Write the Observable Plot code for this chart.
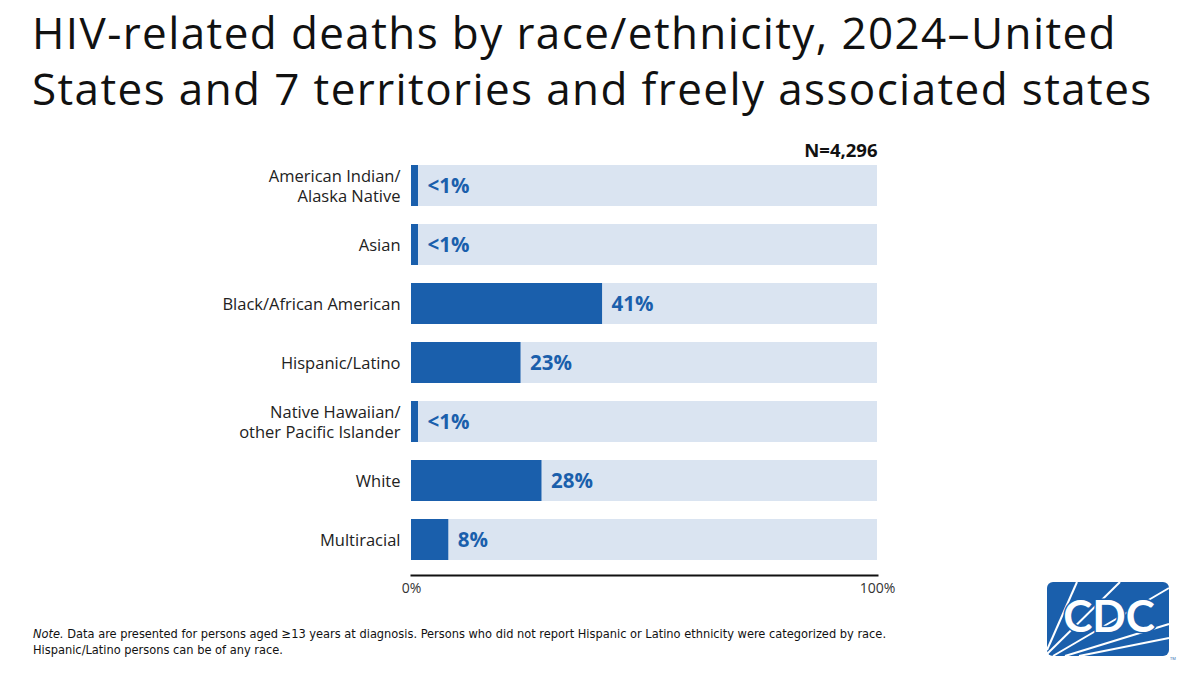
<!DOCTYPE html>
<html>
<head>
<meta charset="utf-8">
<script src="https://cdn.jsdelivr.net/npm/d3@7"></script>
<script src="https://cdn.jsdelivr.net/npm/@observablehq/plot@0.6"></script>
<style>
  html, body { margin: 0; padding: 0; background: #fff; }
  body { width: 1200px; height: 675px; position: relative; overflow: hidden; font-family: "Open Sans", Lato, sans-serif; }
  #title { position: absolute; left: 32px; top: 4px; font-family: "Open Sans", Lato, sans-serif; font-size: 44px; letter-spacing: 1.4px; line-height: 56px; color: #111; font-weight: 400; white-space: nowrap; }
  #chart { position: absolute; left: 0; top: 130px; }
  #note { position: absolute; left: 33px; top: 626px; font-family: "Liberation Sans Narrow", "DejaVu Sans Condensed", sans-serif; font-size: 12.7px; line-height: 16px; color: #111; }
  #logo { position: absolute; left: 1045px; top: 580px; }
</style>
</head>
<body>
<div id="title">HIV-related deaths by race/ethnicity, 2024–United<br>States and 7 territories and freely associated states</div>
<div id="chart"></div>
<div id="note"><i>Note.</i> Data are presented for persons aged ≥13 years at diagnosis. Persons who did not report Hispanic or Latino ethnicity were categorized by race.<br>Hispanic/Latino persons can be of any race.</div>
<svg id="logo" width="140" height="82" viewBox="0 0 140 82">
  <rect x="2" y="2" width="122" height="74" rx="6" fill="#1a5fac"/>
  <g stroke="#fff" stroke-width="2" fill="none">
    <line x1="2" y1="70" x2="32" y2="2"/>
    <line x1="2" y1="74" x2="75" y2="2"/>
    <line x1="8" y1="76" x2="124" y2="8"/>
    <line x1="20" y1="76" x2="124" y2="44"/>
    <line x1="34" y1="76" x2="124" y2="58"/>
  </g>
  <text x="64" y="52" text-anchor="middle" font-family="Lato, sans-serif" font-weight="700" font-size="44" fill="#fff" stroke="#1a5fac" stroke-width="3" paint-order="stroke">CDC</text>
  <text x="125" y="80" font-size="4" fill="#1a5fac">TM</text>
</svg>
<script>
const categories = [
  "American Indian/\nAlaska Native",
  "Asian",
  "Black/African American",
  "Hispanic/Latino",
  "Native Hawaiian/\nother Pacific Islander",
  "White",
  "Multiracial"
];
const barValues = [1.5, 1.5, 41, 23.5, 1.5, 28, 8];
const valueLabels = ["<1%", "<1%", "41%", "23%", "<1%", "28%", "8%"];
const totalLabel = "N=4,296";
const xTicks = [0, 100];

const data = categories.map((c, i) => ({category: c, value: barValues[i], label: valueLabels[i]}));

const darkBlue = "#1a5fac";
const lightBlue = "#dae4f1";

const chart = Plot.plot({
  width: 1200,
  height: 475,
  marginLeft: 411,
  marginRight: 323,
  marginTop: 21.1,
  marginBottom: 30,
  style: {fontFamily: "'Open Sans', Lato, sans-serif", background: "transparent"},
  x: {domain: [0, 100]},
  y: {domain: categories, paddingInner: 0.3, paddingOuter: 0.2},
  marks: [
    Plot.barX(data, {y: "category", x1: 0, x2: 100, fill: lightBlue}),
    Plot.barX(data, {y: "category", x1: 0, x2: "value", fill: darkBlue}),
    Plot.text(data, {y: "category", x: "value", text: "label", textAnchor: "start", dx: 9, fill: darkBlue, fontWeight: 700, fontSize: 20.5}),
    Plot.text([totalLabel], {frameAnchor: "top-right", dy: -8, text: d => d, fontWeight: 700, fontSize: 18.5, fill: "#111", textAnchor: "end"}),
    Plot.frame({anchor: "bottom", stroke: "#111", strokeWidth: 2}),
    Plot.axisX({ticks: xTicks, tickSize: 0, tickPadding: 8, tickFormat: d => d + "%", fontSize: 14, fill: "#333", label: null}),
    Plot.axisY({tickSize: 0, tickPadding: 11, fontSize: 16.5, fill: "#222", label: null, lineHeight: 1.2})
  ]
});
document.getElementById("chart").appendChild(chart);
</script>
</body>
</html>
